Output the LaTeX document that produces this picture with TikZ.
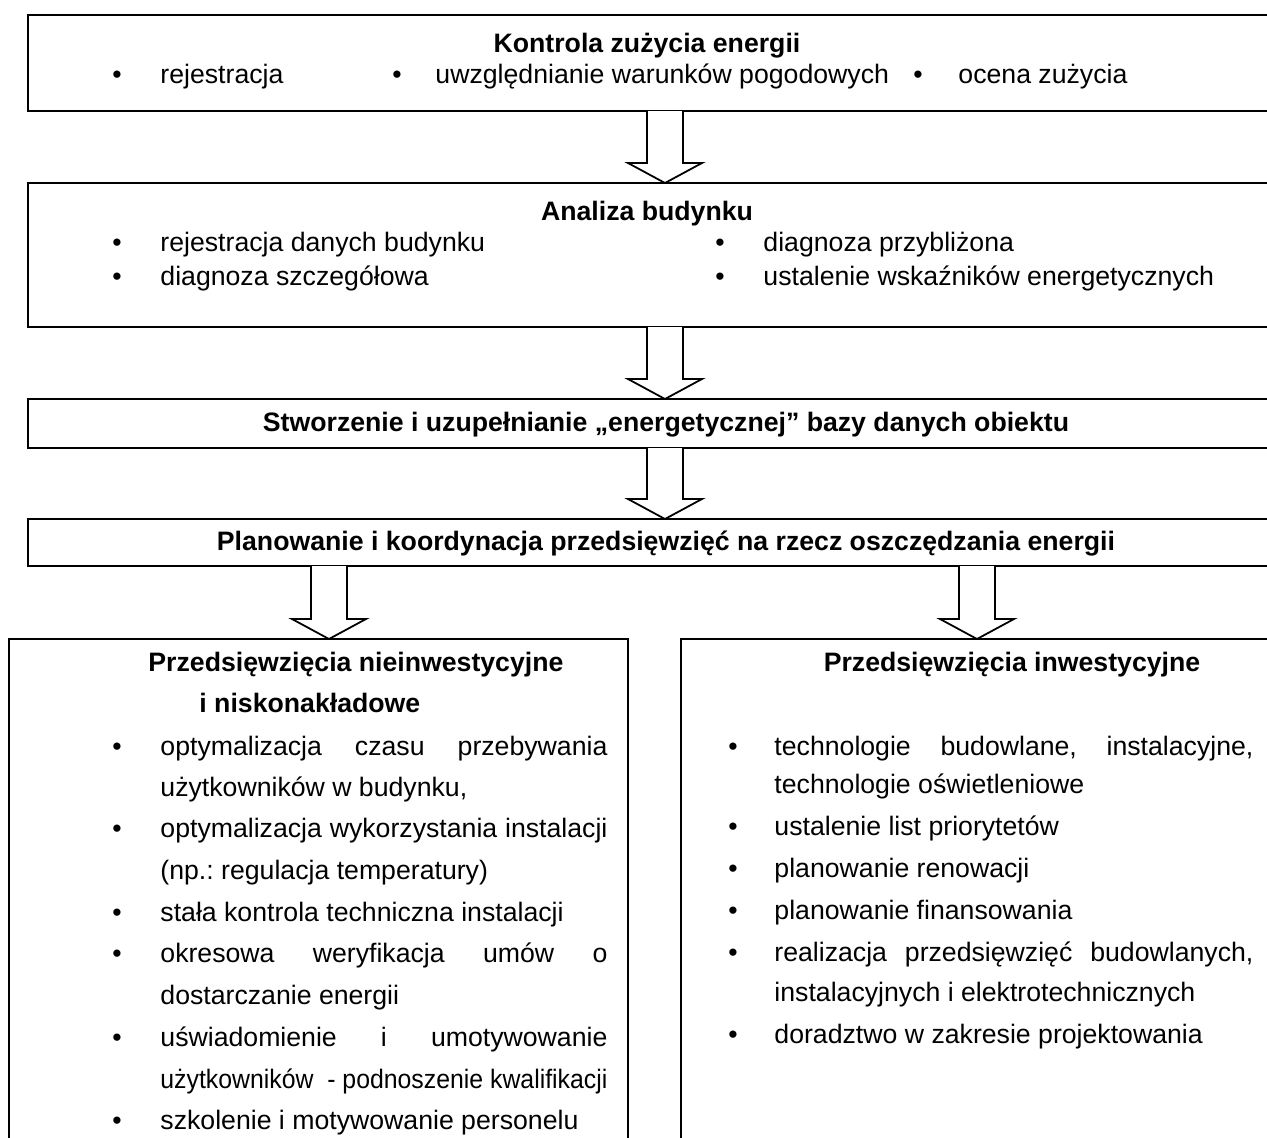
\documentclass[tikz,border=0pt]{standalone}
\usepackage{fontspec}
\setmainfont{Liberation Sans}
\usetikzlibrary{fit}
\frenchspacing
\begin{document}
\begin{tikzpicture}[x=0.45pt,y=-0.45pt,
  box/.style={draw, line width=0.8pt, inner sep=0pt},
  txt/.style={inner sep=0pt, anchor=base west, font=\fontsize{12pt}{14pt}\selectfont},
  ttl/.style={inner sep=0pt, anchor=base, font=\fontsize{12pt}{14pt}\selectfont\bfseries},
  ttlw/.style={inner sep=0pt, anchor=base west, font=\fontsize{12pt}{14pt}\selectfont\bfseries},
  bul/.style={inner sep=0pt, anchor=base, font=\fontsize{12pt}{14pt}\selectfont},
  arrowline/.style={draw, line width=0.8pt, fill=white, line join=miter},
  barrow/.pic={\draw[arrowline] (-18,0) -- (-18,{#1-20}) -- (-37,{#1-20}) -- (0,#1) -- (37,{#1-20}) -- (18,{#1-20}) -- (18,0);}
]
\useasboundingbox (0,0) rectangle (1267,1137);
\clip (0,0) rectangle (1267,1137);

% boxes
\node[box, fit={(28,15) (1300,111)}] (b1) {};
\node[box, fit={(28,183) (1300,327)}] (b2) {};
\node[box, fit={(28,399) (1300,448)}] (b3) {};
\node[box, fit={(28,519) (1300,566)}] (b4) {};
\node[box, fit={(9,639) (628,1170)}] (b5) {};
\node[box, fit={(681,639) (1300,1170)}] (b6) {};

% block arrows
\pic at (665,111) {barrow=72};
\pic at (665,327) {barrow=72};
\pic at (665,448) {barrow=71};
\pic at (329,566) {barrow=73};
\pic at (977,566) {barrow=73};

% box 1
\node[ttl] (t1) at (647,52) {Kontrola zużycia energii};
\node[bul] (b1a) at (117,83) {•};
\node[txt] (t1a) at (160,83) {rejestracja};
\node[bul] (b1b) at (397,83) {•};
\node[txt] (t1b) at (435,83) {uwzględnianie warunków pogodowych};
\node[bul] (b1c) at (918,83) {•};
\node[txt] (t1c) at (958,83) {ocena zużycia};

% box 2
\node[ttl] (t2) at (647,220) {Analiza budynku};
\node[bul] (b2a) at (117,251) {•};
\node[txt] (t2a) at (160,251) {rejestracja danych budynku};
\node[bul] (b2b) at (117,285) {•};
\node[txt] (t2b) at (160,285) {diagnoza szczegółowa};
\node[bul] (b2c) at (720,251) {•};
\node[txt] (t2c) at (763,251) {diagnoza przybliżona};
\node[bul] (b2d) at (720,285) {•};
\node[txt] (t2d) at (763,285) {ustalenie wskaźników energetycznych};

% box 3, 4
\node[ttl] (t3) at (666,431) {Stworzenie i uzupełnianie „energetycznej” bazy danych obiektu};
\node[ttl] (t4) at (666,550) {Planowanie i koordynacja przedsięwzięć na rzecz oszczędzania energii};

% left bottom box
\node[ttlw] (t5) at (148,671) {Przedsięwzięcia nieinwestycyjne};
\node[ttlw] (t5b) at (199,712) {i niskonakładowe};
\node[bul] (l1) at (117,755) {•};
\node[txt] (lt1) at (160,755) {\makebox[201.15pt][s]{optymalizacja czasu przebywania}};
\node[txt] (lt2) at (160,796) {użytkowników w budynku,};
\node[bul] (l3) at (117,837) {•};
\node[txt] (lt3) at (160,837) {\makebox[201.15pt][s]{optymalizacja wykorzystania instalacji}};
\node[txt] (lt4) at (160,879) {(np.: regulacja temperatury)};
\node[bul] (l5) at (117,921) {•};
\node[txt] (lt5) at (160,921) {stała kontrola techniczna instalacji};
\node[bul] (l6) at (117,962) {•};
\node[txt] (lt6) at (160,962) {\makebox[201.15pt][s]{okresowa weryfikacja umów o}};
\node[txt] (lt7) at (160,1004) {dostarczanie energii};
\node[bul] (l8) at (117,1046) {•};
\node[txt] (lt8) at (160,1046) {\makebox[201.15pt][s]{uświadomienie i umotywowanie}};
\node[txt] (lt9) at (160,1088) {\resizebox{201.15pt}{\height}{użytkowników\ \ - podnoszenie kwalifikacji}};
\node[bul] (l10) at (117,1129) {•};
\node[txt] (lt10) at (160,1129) {szkolenie i motywowanie personelu};

% right bottom box
\node[ttl] (t6) at (1012,671) {Przedsięwzięcia inwestycyjne};
\node[bul] (r1) at (733,755) {•};
\node[txt] (rt1) at (774,755) {\makebox[215.55pt][s]{technologie budowlane, instalacyjne,}};
\node[txt] (rt2) at (774,793) {technologie oświetleniowe};
\node[bul] (r3) at (733,835) {•};
\node[txt] (rt3) at (774,835) {ustalenie list priorytetów};
\node[bul] (r4) at (733,877) {•};
\node[txt] (rt4) at (774,877) {planowanie renowacji};
\node[bul] (r5) at (733,919) {•};
\node[txt] (rt5) at (774,919) {planowanie finansowania};
\node[bul] (r6) at (733,961) {•};
\node[txt] (rt6) at (774,961) {\makebox[215.55pt][s]{realizacja przedsięwzięć budowlanych,}};
\node[txt] (rt7) at (774,1001) {instalacyjnych i elektrotechnicznych};
\node[bul] (r8) at (733,1043) {•};
\node[txt] (rt8) at (774,1043) {doradztwo w zakresie projektowania};
\end{tikzpicture}
\end{document}
